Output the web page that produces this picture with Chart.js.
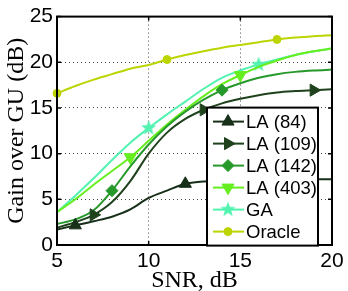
<!DOCTYPE html>
<html lang="en">
<head>
    <meta charset="UTF-8">
    <title>Gain over GU vs SNR</title>
    <script src="https://cdn.jsdelivr.net/npm/chart.js"></script>
    <style>
        html, body { margin: 0; padding: 0; background: #fff; }
        #wrap { width: 348px; height: 291px; }
    </style>
</head>
<body>
    <div id="wrap"><canvas id="chart" width="348" height="291"></canvas></div>
    <script>
        // SNR in dB
        const snr = [5, 6, 7, 8, 9, 10, 11, 12, 13, 14, 15, 16, 17, 18, 19, 20];
        const la84 = [1.7, 2.15, 2.6, 3.1, 3.9, 5.15, 5.95, 6.7, 6.95, 7.05, 7.1, 7.15, 7.15, 7.2, 7.2, 7.2];
        const la109 = [1.9, 2.5, 3.3, 4.7, 7.0, 10.0, 12.3, 13.8, 14.8, 15.5, 16.0, 16.4, 16.7, 16.85, 16.95, 17.05];
        const la142 = [2.3, 2.8, 3.8, 5.95, 8.6, 11.0, 13.0, 14.6, 15.9, 16.95, 17.7, 18.3, 18.7, 18.95, 19.1, 19.2];
        const la403 = [3.6, 5.0, 6.6, 8.1, 9.6, 11.4, 13.2, 14.8, 16.3, 17.6, 18.6, 19.5, 20.2, 20.8, 21.2, 21.5];
        const ga = [3.6, 5.4, 7.3, 9.3, 11.2, 12.8, 14.3, 15.7, 17.1, 18.3, 19.1, 19.75, 20.3, 20.8, 21.2, 21.5];
        const oracle = [16.6, 17.4, 18.1, 18.7, 19.3, 19.7, 20.3, 20.8, 21.2, 21.6, 21.9, 22.2, 22.5, 22.7, 22.85, 22.95];

        const xTicks = [5, 10, 15, 20];
        const yTicks = [0, 5, 10, 15, 20, 25];

        // where each series carries its markers
        const markAt = {
            la84: [6, 12, 18],
            la109: [7, 13, 19],
            la142: [8, 14],
            la403: [9, 15],
            ga: [10, 16],
            oracle: [5, 11, 17]
        };

        function starCanvas(color, r) {
            const c = document.createElement('canvas');
            c.width = c.height = r * 2 + 2;
            const g = c.getContext('2d');
            g.fillStyle = color;
            g.beginPath();
            for (let i = 0; i < 10; i++) {
                const rr = i % 2 === 0 ? r : r * 0.42;
                const a = -Math.PI / 2 + i * Math.PI / 5;
                g.lineTo(r + 1 + rr * Math.cos(a), r + 1 + rr * Math.sin(a));
            }
            g.closePath();
            g.fill();
            return c;
        }

        const gaStar = starCanvas('#52f2b0', 8);

        function series(label, data, color, key, style, rotation, radius) {
            return {
                label: label,
                data: data,
                borderColor: color,
                backgroundColor: color,
                borderWidth: 2,
                pointStyle: style,
                pointRotation: rotation,
                pointRadius: snr.map(s => markAt[key].includes(s) ? radius : 0),
                pointHoverRadius: 0,
                pointBorderWidth: 1,
                cubicInterpolationMode: 'monotone',
                clip: false
            };
        }

        const datasets = [
            series('LA (84)', la84, '#18301a', 'la84', 'triangle', 0, 7),
            series('LA (109)', la109, '#1f421c', 'la109', 'triangle', 90, 7),
            series('LA (142)', la142, '#26992a', 'la142', 'rectRot', 0, 6),
            series('LA (403)', la403, '#66ee1e', 'la403', 'triangle', 180, 7),
            series('GA', ga, '#52f2b0', 'ga', gaStar, 0, 8),
            series('Oracle', oracle, '#bcd400', 'oracle', 'circle', 0, 4)
        ];

        // box, inward ticks and the legend inside the plot
        const framePlugin = {
            id: 'frame',
            afterDraw(chart) {
                const ctx = chart.ctx;
                const a = chart.chartArea;
                const xs = chart.scales.x, ys = chart.scales.y;
                ctx.save();
                ctx.strokeStyle = '#000';
                ctx.lineWidth = 2;
                ctx.strokeRect(a.left, a.top, a.right - a.left, a.bottom - a.top);
                ctx.lineWidth = 1.5;
                xTicks.forEach(v => {
                    const px = xs.getPixelForValue(v);
                    ctx.beginPath();
                    ctx.moveTo(px, a.bottom); ctx.lineTo(px, a.bottom - 4);
                    ctx.moveTo(px, a.top); ctx.lineTo(px, a.top + 4);
                    ctx.stroke();
                });
                yTicks.forEach(v => {
                    const py = ys.getPixelForValue(v);
                    ctx.beginPath();
                    ctx.moveTo(a.left, py); ctx.lineTo(a.left + 4, py);
                    ctx.moveTo(a.right, py); ctx.lineTo(a.right - 4, py);
                    ctx.stroke();
                });

                // legend
                const bx = a.right - 125, by = a.top + 91, bw = 111, bh = 138;
                ctx.fillStyle = '#fff';
                ctx.fillRect(bx, by, bw, bh);
                ctx.lineWidth = 2;
                ctx.strokeRect(bx, by, bw, bh);
                ctx.font = '18.5px "Liberation Sans", Arial, sans-serif';
                ctx.textBaseline = 'middle';
                chart.data.datasets.forEach((ds, i) => {
                    const cy = by + 14 + i * 22;
                    ctx.strokeStyle = ds.borderColor;
                    ctx.fillStyle = ds.borderColor;
                    ctx.lineWidth = 2;
                    ctx.beginPath();
                    ctx.moveTo(bx + 6, cy); ctx.lineTo(bx + 37, cy);
                    ctx.stroke();
                    ctx.lineWidth = 1;
                    Chart.helpers.drawPoint(ctx, {
                        pointStyle: ds.pointStyle,
                        rotation: ds.pointRotation,
                        radius: Math.max(...ds.pointRadius),
                        borderWidth: 1
                    }, bx + 21, cy);
                    ctx.fillStyle = '#000';
                    ctx.fillText(ds.label, bx + 39, cy + 1);
                });
                ctx.restore();
            }
        };

        new Chart(document.getElementById('chart'), {
            type: 'line',
            data: { labels: snr, datasets: datasets },
            options: {
                responsive: false,
                animation: false,
                layout: { padding: { top: 14, right: 16, left: 0, bottom: 0 } },
                plugins: { legend: { display: false }, tooltip: { enabled: false } },
                scales: {
                    x: {
                        type: 'linear',
                        min: 5, max: 20,
                        afterBuildTicks: s => { s.ticks = xTicks.map(v => ({ value: v })); },
                        afterFit: s => { s.height = 46; },
                        grid: {
                            drawTicks: false,
                            color: c => (c.tick && (c.tick.value === 5 || c.tick.value === 20)) ? 'rgba(0,0,0,0)' : '#444',
                            lineWidth: 1
                        },
                        border: { display: false, dash: [1, 3] },
                        ticks: {
                            color: '#000',
                            padding: 4,
                            font: { family: '"Liberation Sans", Arial, sans-serif', size: 21 }
                        },
                        title: {
                            display: true,
                            text: 'SNR, dB',
                            color: '#000',
                            padding: { top: 0, bottom: -4 },
                            font: { family: '"Liberation Serif", "Times New Roman", serif', size: 24 }
                        }
                    },
                    y: {
                        min: 0, max: 25,
                        afterBuildTicks: s => { s.ticks = yTicks.map(v => ({ value: v })); },
                        afterFit: s => { s.width = 57; },
                        grid: {
                            drawTicks: false,
                            color: c => (c.tick && (c.tick.value === 0 || c.tick.value === 25)) ? 'rgba(0,0,0,0)' : '#444',
                            lineWidth: 1
                        },
                        border: { display: false, dash: [1, 3] },
                        ticks: {
                            color: '#000',
                            padding: 4,
                            font: { family: '"Liberation Sans", Arial, sans-serif', size: 21 }
                        },
                        title: {
                            display: true,
                            text: 'Gain over GU (dB)',
                            color: '#000',
                            padding: { top: 2, bottom: 0 },
                            font: { family: '"Liberation Serif", "Times New Roman", serif', size: 24 }
                        }
                    }
                }
            },
            plugins: [framePlugin]
        });
    </script>
</body>
</html>
